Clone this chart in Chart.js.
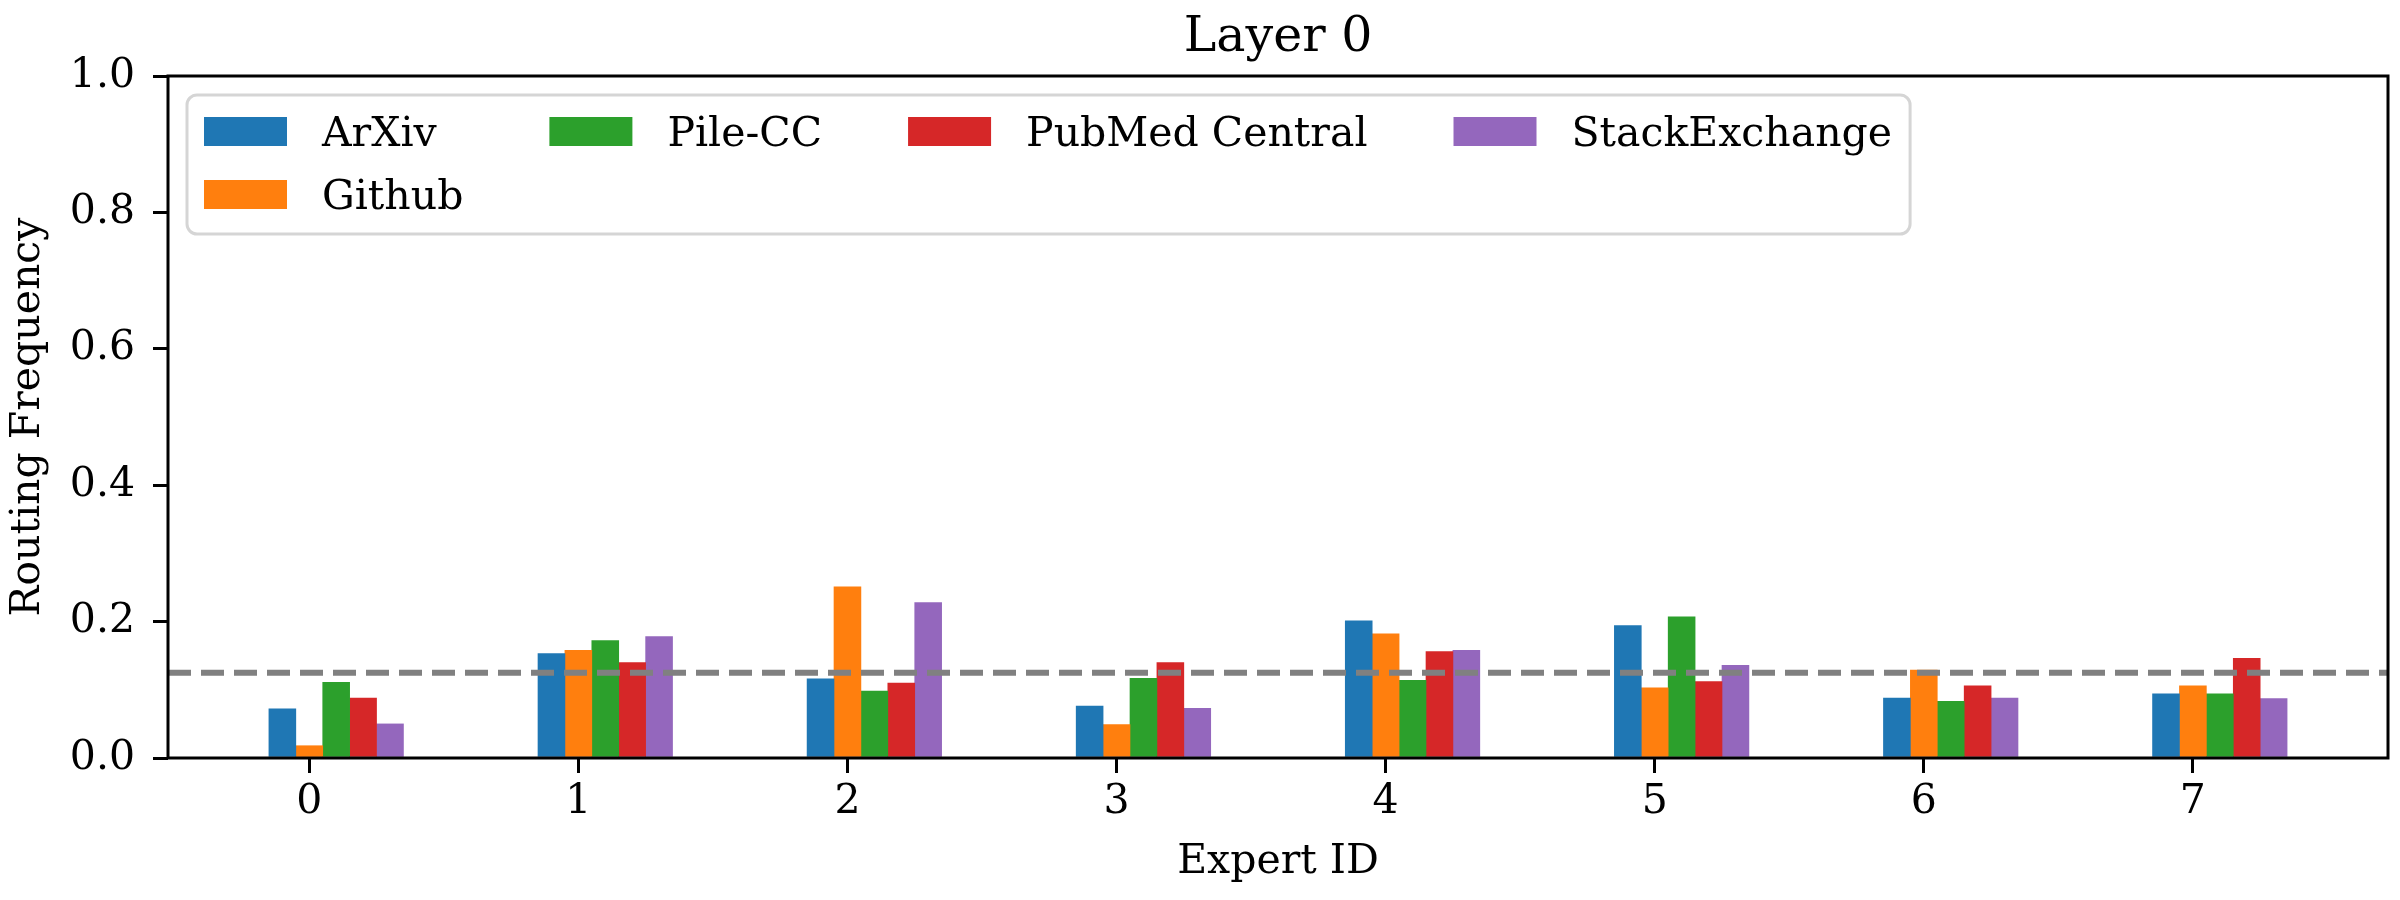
<!DOCTYPE html>
<html>
<head>
<meta charset="utf-8">
<title>Layer 0</title>
<script src="https://cdn.jsdelivr.net/npm/chart.js@4.4.1/dist/chart.umd.min.js"></script>
<style>
  html, body { margin: 0; padding: 0; background: #fff; }
  #wrap { width: 2400px; height: 900px; }
</style>
</head>
<body>
<div id="wrap"><canvas id="chart" width="2400" height="900"></canvas></div>
<script>
const expertIds = [0, 1, 2, 3, 4, 5, 6, 7];
const sourceNames = ["ArXiv", "Github", "Pile-CC", "PubMed Central", "StackExchange"];
const arxiv = [0.072, 0.153, 0.116, 0.076, 0.201, 0.194, 0.088, 0.094];
const github = [0.018, 0.158, 0.251, 0.049, 0.182, 0.103, 0.129, 0.106];
const pileCC = [0.111, 0.172, 0.098, 0.117, 0.114, 0.207, 0.083, 0.094];
const pubmed = [0.088, 0.140, 0.110, 0.140, 0.156, 0.112, 0.106, 0.146];
const stackExchange = [0.050, 0.178, 0.228, 0.073, 0.158, 0.136, 0.088, 0.087];
const uniformLevel = 0.125;
const yTicks = [0, 0.2, 0.4, 0.6, 0.8, 1.0];
const chartTitle = "Layer 0";

const seriesValues = [arxiv, github, pileCC, pubmed, stackExchange];
const colors = ["#1f77b4", "#ff7f0e", "#2ca02c", "#d62728", "#9467bd"];
const barStep = 0.1;
const xMin = -0.525, xMax = 7.725;
const FONT = "'DejaVu Serif', serif";

Chart.defaults.font.family = FONT;
Chart.defaults.color = "#000";

const barSets = sourceNames.map((name, i) => ({
  type: "bar",
  label: name,
  data: expertIds.map((id, k) => ({ x: id + (i - 1) * barStep, y: seriesValues[i][k] })),
  backgroundColor: colors[i],
  borderWidth: 0,
  grouped: false,
  barPercentage: 1,
  categoryPercentage: 1,
  order: 1
}));

const meanLine = {
  type: "line",
  label: "uniform",
  data: [{ x: xMin, y: uniformLevel }, { x: xMax, y: uniformLevel }],
  borderColor: "#808080",
  borderWidth: 6,
  borderDash: [23, 10],
  borderCapStyle: "butt",
  pointRadius: 0,
  fill: false,
  order: 0
};

// full box around the axes, like matplotlib spines
const frame = {
  id: "frame",
  afterDatasetsDraw(chart) {
    const { ctx, chartArea: a } = chart;
    ctx.save();
    ctx.strokeStyle = "#000";
    ctx.lineWidth = 3;
    ctx.strokeRect(a.left, a.top, a.right - a.left, a.bottom - a.top);
    ctx.restore();
  }
};

// title centred over the axes rather than the canvas
const axesTitle = {
  id: "axesTitle",
  afterDraw(chart) {
    const { ctx, chartArea: a } = chart;
    ctx.save();
    ctx.font = "49px " + FONT;
    ctx.fillStyle = "#000";
    ctx.textAlign = "center";
    ctx.textBaseline = "alphabetic";
    ctx.fillText(chartTitle, (a.left + a.right) / 2, a.top - 25);
    ctx.restore();
  }
};

// legend filled column by column, 4 columns
const legendBox = {
  id: "legendBox",
  afterDraw(chart) {
    const { ctx, chartArea } = chart;
    const items = chart.data.datasets.filter(d => d.type === "bar");
    const nCols = 4;
    const base = Math.floor(items.length / nCols), extra = items.length % nCols;
    const cols = [];
    let p = 0;
    for (let c = 0; c < nCols; c++) {
      const n = base + (c < extra ? 1 : 0);
      cols.push(items.slice(p, p + n));
      p += n;
    }
    ctx.save();
    ctx.font = "41px " + FONT;
    const left = chartArea.left + 19, top = chartArea.top + 19;
    const sw = 83, sh = 29, textPad = 35, colGap = 86, rowH = 63;
    let x = left + 17;
    const colX = [];
    cols.forEach(col => {
      colX.push(x);
      const w = Math.max(...col.map(d => ctx.measureText(d.label).width));
      x += sw + textPad + w + colGap;
    });
    const right = x - colGap + 18;
    const height = 139;
    ctx.beginPath();
    ctx.roundRect(left, top, right - left, height, 10);
    ctx.fillStyle = "rgba(255,255,255,0.8)";
    ctx.fill();
    ctx.lineWidth = 3;
    ctx.strokeStyle = "#d5d5d5";
    ctx.stroke();
    ctx.textBaseline = "alphabetic";
    ctx.textAlign = "left";
    cols.forEach((col, c) => {
      col.forEach((d, r) => {
        const sy = top + 22 + r * rowH;
        ctx.fillStyle = d.backgroundColor;
        ctx.fillRect(colX[c], sy, sw, sh);
        ctx.fillStyle = "#000";
        ctx.fillText(d.label, colX[c] + sw + textPad, sy + sh);
      });
    });
    ctx.restore();
  }
};

new Chart(document.getElementById("chart"), {
  type: "bar",
  data: { datasets: [...barSets, meanLine] },
  options: {
    responsive: false,
    devicePixelRatio: 1,
    animation: false,
    layout: { padding: { left: 0, right: 12, top: 76, bottom: 0 } },
    plugins: {
      legend: { display: false },
      tooltip: { enabled: false },
      title: { display: false }
    },
    scales: {
      x: {
        type: "linear",
        min: xMin,
        max: xMax,
        offset: false,
        afterBuildTicks: (scale) => { scale.ticks = expertIds.map(v => ({ value: v })); },
        afterFit: (scale) => { scale.height = 142; },
        grid: { display: true, drawOnChartArea: false, drawTicks: true, tickLength: 15, lineWidth: 3, color: "#000", offset: false },
        border: { display: false },
        ticks: { font: { size: 41 }, color: "#000", padding: 5, maxRotation: 0, autoSkip: false, callback: v => String(v) },
        title: { display: true, text: "Expert ID", font: { size: 41 }, color: "#000", padding: { top: 0, bottom: 13 } }
      },
      y: {
        min: 0,
        max: 1,
        afterBuildTicks: (scale) => { scale.ticks = yTicks.map(v => ({ value: v })); },
        afterFit: (scale) => { scale.width = 168; },
        grid: { display: true, drawOnChartArea: false, drawTicks: true, tickLength: 15, lineWidth: 3, color: "#000" },
        border: { display: false },
        ticks: { font: { size: 41 }, color: "#000", padding: 18, callback: v => v.toFixed(1) },
        title: { display: true, text: "Routing Frequency", font: { size: 41 }, color: "#000", padding: { top: 4, bottom: 0 } }
      }
    }
  },
  plugins: [frame, axesTitle, legendBox]
});
</script>
</body>
</html>
